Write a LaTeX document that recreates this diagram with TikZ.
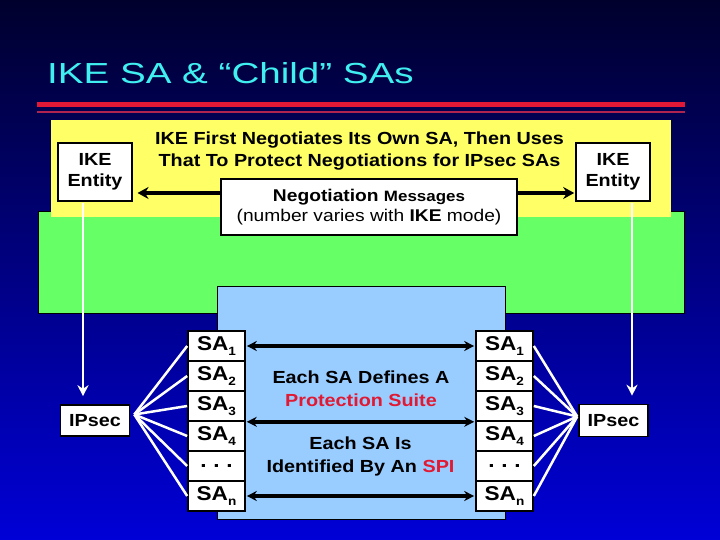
\documentclass[tikz,border=0pt]{standalone}
\usepackage{fontspec}
\setmainfont{Liberation Sans}[FakeStretch=1.13]
\newfontfamily\titlefont{Liberation Sans}[FakeStretch=1.33]
\usetikzlibrary{calc,arrows.meta}

\definecolor{slidetop}{RGB}{0,0,45}
\definecolor{slidebot}{RGB}{0,0,215}
\definecolor{titlecyan}{RGB}{64,240,240}
\definecolor{rulered}{RGB}{225,25,55}
\definecolor{rulemaroon}{RGB}{175,35,80}
\definecolor{ikeyellow}{RGB}{255,255,102}
\definecolor{ikegreen}{RGB}{102,255,102}
\definecolor{sablue}{RGB}{153,204,255}
\definecolor{suitered}{RGB}{225,25,50}

% small, low index after SA
\newcommand\sasub[1]{\raisebox{-0.28em}{\fontsize{12}{12}\selectfont #1}}

\begin{document}
\begin{tikzpicture}[x=1pt, y=-1pt, line join=miter,
  box/.style={draw=black, line width=1.6pt, fill=white, inner sep=0pt, align=center,
    font=\bfseries\fontsize{17.5}{21}\selectfont},
  sacell/.style={box, minimum width=57pt, minimum height=30pt,
    font=\bfseries\fontsize{20}{24}\selectfont},
  wire/.style={white, line width=2.5pt},
  godown/.style={wire, -{Stealth[length=11pt,width=11pt]}},
  msg/.style={black, line width=3.5pt, -{Stealth[length=11pt,width=12pt]}},
  samsg/.style={black, line width=3.5pt,
    {Stealth[length=10pt,width=10pt]}-{Stealth[length=10pt,width=10pt]}}
]

% ---------------------------
% Slide background (pixel grid, y downwards)
% ---------------------------
\shade[top color=slidetop, bottom color=slidebot] (0,0) rectangle (720,540);
\useasboundingbox (0,0) rectangle (720,540);

% Title and the two rules under it
\node[anchor=base west, inner sep=0pt, text=titlecyan,
  font=\titlefont\fontsize{29}{34}\selectfont] (title) at (47,84) {IKE SA \& “Child” SAs};
\draw[rulered, line width=5pt] (37,104.5) -- (685,104.5);
\draw[rulemaroon, line width=2.5pt] (37,112) -- (685,112);

% ---------------------------
% Coloured panels
% ---------------------------
\filldraw[fill=ikegreen, draw=black, line width=1pt] (38,212) rectangle (684,313);
\fill[ikeyellow] (50.5,120) rectangle (671,217.5);
\filldraw[fill=sablue, draw=black, line width=1pt] (217,286) rectangle (505,519);

% ---------------------------
% IKE phase (top)
% ---------------------------
\node[align=center, inner sep=0pt, font=\bfseries\fontsize{17.5}{21.7}\selectfont]
  (ikefirst) at (359.5,151) {IKE First Negotiates Its Own SA, Then Uses\\That To Protect Negotiations for IPsec SAs};

\node[box, minimum width=73.5pt, minimum height=57.5pt] (ikeL) at (95,172) {IKE\\Entity};
\node[box, minimum width=74pt, minimum height=57.5pt] (ikeR) at (613,172) {IKE\\Entity};

\node[box, minimum width=296pt, minimum height=56pt, font=\bfseries\fontsize{17}{20.5}\selectfont]
  (negot) at (369,207) {Negotiation {\fontsize{15}{20.5}\selectfont Messages}\\\mdseries (number varies with \textbf{IKE} mode)};

% arrows from the message box out to both entities
\coordinate (msgy) at (0,193);
\draw[msg, shorten >=5pt] (negot.west |- msgy) -- (ikeL.east |- msgy);
\draw[msg, shorten >=1pt] (negot.east |- msgy) -- (ikeR.west |- msgy);

% ---------------------------
% IPsec and the child SAs (bottom)
% ---------------------------
\node[box, minimum width=69pt, minimum height=31pt] (ipsecL) at (95,420.5) {IPsec};
\node[box, minimum width=69pt, minimum height=32pt] (ipsecR) at (613.5,420.5) {IPsec};

\foreach \i/\lab in {1/SA\sasub{1}, 2/SA\sasub{2}, 3/SA\sasub{3},
                     4/SA\sasub{4}, 5/.\,\,.\,\,., 6/SA\sasub{n}} {
  \node[sacell] (saL\i) at (216.5,316+30*\i) {\lab};
  \node[sacell] (saR\i) at (504.5,316+30*\i) {\lab};
}

\node[align=center, inner sep=0pt, font=\bfseries\fontsize{17.5}{23.3}\selectfont]
  (suite) at (361,388.5) {Each SA Defines A\\\textcolor{suitered}{Protection Suite}};
\node[align=center, inner sep=0pt, font=\bfseries\fontsize{17.5}{23.3}\selectfont]
  (spi) at (360.5,456.5) {Each SA Is\\Identified By An \textcolor{suitered}{SPI}};

% SA pairs between the two ends
\draw[samsg, shorten <=1pt, shorten >=1pt] (saL1.east) -- (saR1.west);
\draw[samsg, shorten <=1pt, shorten >=1pt] (saL3.south east) -- (saR3.south west);
\draw[samsg, shorten <=1pt, shorten >=1pt] (saL6.east) -- (saR6.west);

% IKE entity hands over to IPsec
\coordinate (dropL) at (83,0);
\coordinate (dropR) at (632,0);
\draw[godown, shorten <=1pt, shorten >=8pt] (ikeL.south -| dropL) -- (ipsecL.north -| dropL);
\draw[godown, shorten <=1pt, shorten >=8pt] (ikeR.south -| dropR) -- (ipsecR.north -| dropR);

% fan of white lines from IPsec to every SA
\coordinate (fanL) at ($(ipsecL.east)+(4,-6)$);
\coordinate (fanR) at ($(ipsecR.west)+(-1,-4)$);
\foreach \i in {1,...,6} {
  \draw[wire] (fanL) -- (saL\i.west);
  \draw[wire] (fanR) -- (saR\i.east);
}

\end{tikzpicture}
\end{document}
